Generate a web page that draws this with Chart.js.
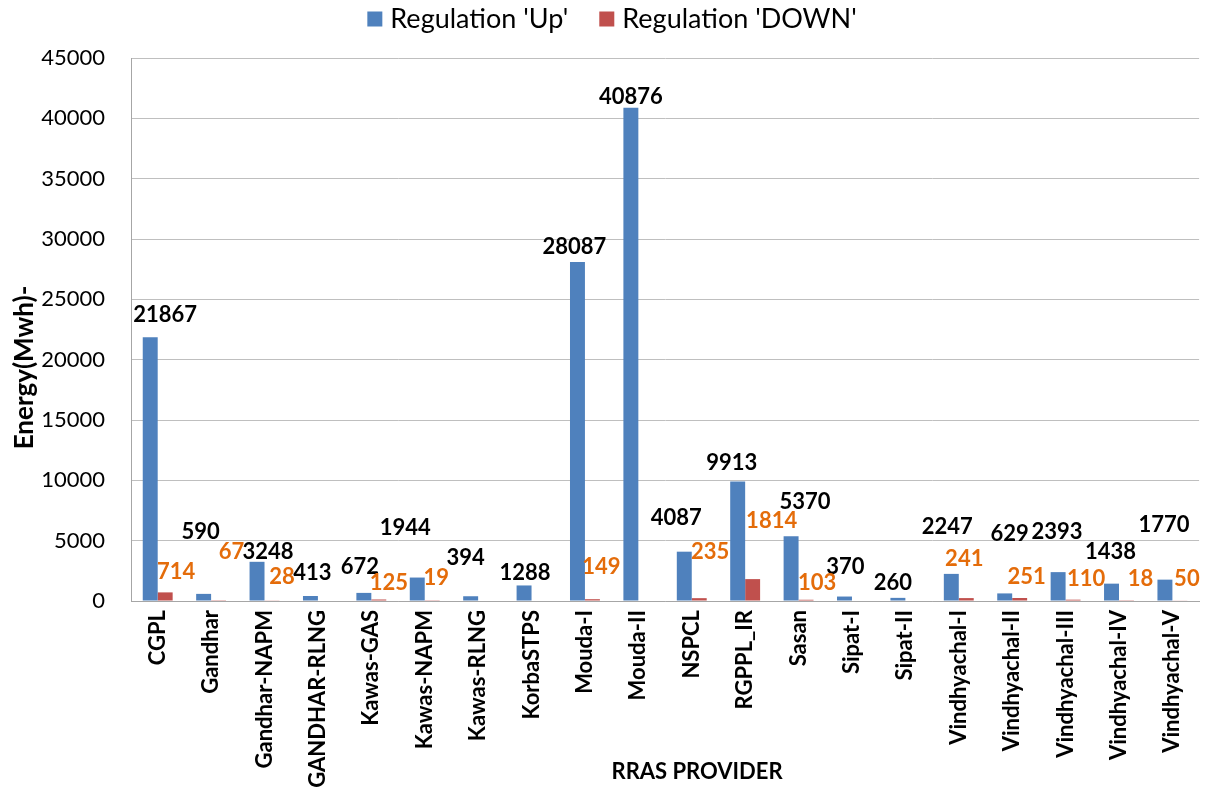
<!DOCTYPE html>
<html>
<head>
<meta charset="utf-8">
<script src="https://cdn.jsdelivr.net/npm/chart.js@4.4.0/dist/chart.umd.min.js"></script>
<style>
html,body{margin:0;padding:0;background:#ffffff;}
#wrap{width:1208px;height:791px;position:relative;}
</style>
</head>
<body>
<div id="wrap"><canvas id="c"></canvas></div>
<script>
// ---- data ----
const categories = ["CGPL","Gandhar","Gandhar-NAPM","GANDHAR-RLNG","Kawas-GAS","Kawas-NAPM","Kawas-RLNG","KorbaSTPS","Mouda-I","Mouda-II","NSPCL","RGPPL_IR","Sasan","Sipat-I","Sipat-II","Vindhyachal-I","Vindhyachal-II","Vindhyachal-III","Vindhyachal-IV","Vindhyachal-V"];
const regulationUp = [21867,590,3248,413,672,1944,394,1288,28087,40876,4087,9913,5370,370,260,2247,629,2393,1438,1770];
const regulationDown = [714,67,28,null,125,19,null,null,149,null,235,1814,103,null,null,241,251,110,18,50];
const seriesNames = ["Regulation 'Up'","Regulation 'DOWN'"];
const xAxisTitle = "RRAS PROVIDER";
const yAxisTitle = "Energy(Mwh)-";
const yMin = 0, yMax = 45000, yStep = 5000;

// ---- label placement (pixel nudges relative to each bar's top) ----
const upLabelDx = [15,-3,11,2,-4,-12,-5,1,-3,0,-8,-6,14,1,-5,-4,5,-1,-1,-1];
const upLabelDy = [-22,-62,-10,-23,-26,-50,-38,-13,-15,-11,-34,-18,-34,-30,-15,-47,-60,-40,-32,-55];
const downLabelDx = [11,13,10,0,10,4,0,0,9,0,11,19,11,0,0,-2,7,13,14,7];
const downLabelDy = [-20,-48,-24,0,-17,-23,0,0,-32,0,-46,-58,-17,0,0,-39,-21,-21,-22,-21];

const colors = ["#4f81bd","#c0504d"];
const labelColors = ["#000000","#e46c0a"];
const FONT = "Lato";

const valueLabels = {
  id: 'valueLabels',
  afterDatasetsDraw(chart) {
    const ctx = chart.ctx;
    const offs = [[upLabelDx, upLabelDy],[downLabelDx, downLabelDy]];
    ctx.save();
    ctx.font = "bold 22px " + FONT;
    ctx.textAlign = 'center';
    ctx.textBaseline = 'middle';
    chart.data.datasets.forEach((ds, di) => {
      const meta = chart.getDatasetMeta(di);
      meta.data.forEach((bar, i) => {
        const v = ds.data[i];
        if (v === null || v === undefined) return;
        ctx.fillStyle = labelColors[di];
        ctx.fillText(String(v), bar.x + offs[di][0][i], bar.y + offs[di][1][i]);
      });
    });
    ctx.restore();
  }
};

const customLegend = {
  id: 'customLegend',
  afterDraw(chart) {
    const ctx = chart.ctx;
    ctx.save();
    ctx.font = "27px " + FONT;
    ctx.textBaseline = 'middle';
    ctx.textAlign = 'left';
    const box = 15, gapText = 8, gapItem = 31;
    const widths = chart.data.datasets.map(d => box + gapText + ctx.measureText(d.label).width);
    const total = widths.reduce((a,b)=>a+b,0) + gapItem*(widths.length-1);
    let x = chart.width/2 + 8 - total/2;
    const cy = 19;
    chart.data.datasets.forEach((d, i) => {
      ctx.fillStyle = d.backgroundColor;
      ctx.fillRect(x, cy - box/2, box, box);
      ctx.fillStyle = '#000';
      ctx.fillText(d.label, x + box + gapText, cy);
      x += widths[i] + gapItem;
    });
    ctx.restore();
  }
};

const axisTitles = {
  id: 'axisTitles',
  afterDraw(chart) {
    const ctx = chart.ctx, a = chart.chartArea;
    ctx.save();
    ctx.fillStyle = '#000';
    ctx.textAlign = 'center';
    ctx.textBaseline = 'middle';
    ctx.font = "bold 22px " + FONT;
    ctx.fillText(xAxisTitle, (a.left + a.right)/2 + 32, chart.height - 19);
    ctx.translate(25, (a.top + a.bottom)/2 + 38);
    ctx.rotate(-Math.PI/2);
    ctx.font = "bold 26px " + FONT;
    ctx.fillText(yAxisTitle, 0, 0);
    ctx.restore();
  }
};

new Chart(document.getElementById('c'), {
  type: 'bar',
  data: {
    labels: categories,
    datasets: [
      { label: seriesNames[0], data: regulationUp, backgroundColor: colors[0], borderWidth: 0 },
      { label: seriesNames[1], data: regulationDown, backgroundColor: colors[1], borderWidth: 0 }
    ]
  },
  options: {
    responsive: true,
    maintainAspectRatio: false,
    animation: false,
    devicePixelRatio: 1,
    datasets: { bar: { categoryPercentage: 0.56, barPercentage: 1.0 } },
    layout: { padding: { top: 58, right: 8, left: 0, bottom: 0 } },
    plugins: { legend: { display: false }, tooltip: { enabled: false } },
    scales: {
      x: {
        grid: { display: false, drawTicks: false },
        border: { display: true, color: '#a6a6a6', width: 1 },
        ticks: { minRotation: 90, maxRotation: 90, autoSkip: false, padding: 9, color: '#000',
                 font: { family: FONT, weight: 'bold', size: 22 } },
        afterFit(s) { s.height = 190; }
      },
      y: {
        min: yMin, max: yMax,
        ticks: { stepSize: yStep, padding: 26, color: '#000', font: { family: FONT, size: 22 },
                 callback: (v) => String(v) },
        grid: { color: '#bfbfbf', drawTicks: false },
        border: { color: '#a6a6a6', width: 1 },
        afterFit(s) { s.width = 131; }
      }
    }
  },
  plugins: [valueLabels, customLegend, axisTitles]
});
</script>
</body>
</html>
